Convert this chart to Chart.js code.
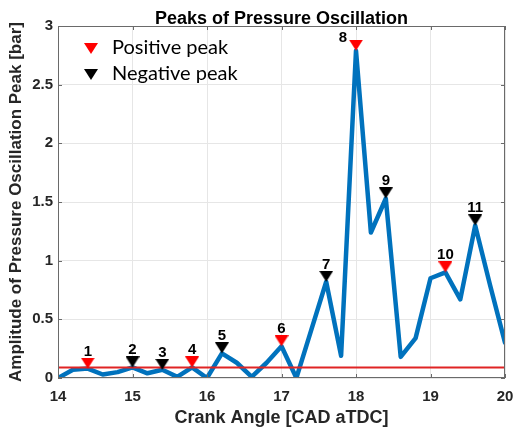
<!DOCTYPE html>
<html>
<head>
<meta charset="utf-8">
<title>Peaks of Pressure Oscillation</title>
<script src="https://cdn.jsdelivr.net/npm/chart.js@4.4.1/dist/chart.umd.min.js"></script>
<style>
  html, body { margin: 0; padding: 0; background: #fff; }
  #wrap { width: 514px; height: 430px; }
</style>
</head>
<body>
<div id="wrap"><canvas id="peakChart" width="514" height="430"></canvas></div>
<script>
// Crank angle samples [CAD aTDC]
const crankAngle = [
    14.0, 14.2, 14.4, 14.6, 14.8, 15.0, 15.2, 15.4, 15.6, 15.8,
    16.0, 16.2, 16.4, 16.6, 16.8, 17.0, 17.2, 17.4, 17.6, 17.8,
    18.0, 18.2, 18.4, 18.6, 18.8, 19.0, 19.2, 19.4, 19.6, 19.8, 20.0
];

// Pressure oscillation amplitude at each sample [bar]
const amplitude = [
    0.00, 0.07, 0.08, 0.03, 0.05, 0.09, 0.04, 0.07, 0.01, 0.09,
    0.00, 0.21, 0.13, 0.01, 0.13, 0.27, 0.00, 0.41, 0.82, 0.19,
    2.79, 1.24, 1.53, 0.18, 0.34, 0.85, 0.90, 0.67, 1.30, 0.79, 0.30
];

// Crank angles where peaks were detected
const positivePeaks = [14.4, 15.8, 17.0, 18.0, 19.2];
const negativePeaks = [15.0, 15.4, 16.2, 17.6, 18.4, 19.6];

// Detection threshold [bar]
const threshold = 0.09;

const xTicks = [14, 15, 16, 17, 18, 19, 20];
const yTicks = [0, 0.5, 1, 1.5, 2, 2.5, 3];

const BLUE = '#0072BD';
const RED = '#FF0000';
const AXIS_GRAY = '#6a6a6a';
const TEXT_DARK = '#262626';
const SANS = '"Liberation Sans", Arial, sans-serif';

// amplitude lookup for a peak angle
function peakValue(angle) {
    const i = crankAngle.findIndex(a => Math.abs(a - angle) < 1e-6);
    return amplitude[i];
}

// peaks are numbered in crank-angle order
const peakOrder = positivePeaks.concat(negativePeaks).sort((a, b) => a - b);

// Downward triangle marker, tip sitting on the peak
function makeMarker(color) {
    const c = document.createElement('canvas');
    c.width = 14;
    c.height = 22;
    const g = c.getContext('2d');
    g.fillStyle = color;
    g.beginPath();
    g.moveTo(0, 0);
    g.lineTo(14, 0);
    g.lineTo(7, 11);
    g.closePath();
    g.fill();
    return c;
}

function drawTriangle(ctx, cx, cy, color) {
    ctx.fillStyle = color;
    ctx.beginPath();
    ctx.moveTo(cx - 7, cy - 5);
    ctx.lineTo(cx + 7, cy - 5);
    ctx.lineTo(cx, cy + 6);
    ctx.closePath();
    ctx.fill();
}

// Box, inward ticks, peak numbers, legend and title
const peakAnnotations = {
    id: 'peakAnnotations',
    afterDraw(chart) {
        const { ctx, chartArea: area, scales: { x, y } } = chart;
        ctx.save();

        // axes box
        ctx.strokeStyle = AXIS_GRAY;
        ctx.lineWidth = 1;
        ctx.strokeRect(area.left + 0.5, area.top + 0.5,
            area.right - area.left - 1, area.bottom - area.top - 1);

        // inward tick marks
        ctx.beginPath();
        xTicks.forEach(t => {
            const px = Math.round(x.getPixelForValue(t)) + 0.5;
            ctx.moveTo(px, area.bottom);
            ctx.lineTo(px, area.bottom - 4);
            ctx.moveTo(px, area.top);
            ctx.lineTo(px, area.top + 4);
        });
        yTicks.forEach(t => {
            const py = Math.round(y.getPixelForValue(t)) + 0.5;
            ctx.moveTo(area.left, py);
            ctx.lineTo(area.left + 4, py);
            ctx.moveTo(area.right, py);
            ctx.lineTo(area.right - 4, py);
        });
        ctx.stroke();

        // peak numbers
        ctx.fillStyle = '#000';
        ctx.font = 'bold 15px ' + SANS;
        ctx.textBaseline = 'alphabetic';
        peakOrder.forEach((angle, i) => {
            const px = x.getPixelForValue(angle);
            const py = y.getPixelForValue(peakValue(angle));
            const label = String(i + 1);
            if (py - 24 < area.top + 8) {
                // no room above the marker: put the number beside it
                ctx.textAlign = 'right';
                ctx.fillText(label, px - 9, py - 9);
            } else {
                ctx.textAlign = 'center';
                ctx.fillText(label, px, py - 13);
            }
        });

        // legend
        const legendX = area.left + 33;
        const legendY = area.top + 22;
        const items = [['Positive peak', RED], ['Negative peak', '#000']];
        ctx.font = '20px Lato, "Open Sans", sans-serif';
        ctx.textAlign = 'left';
        ctx.textBaseline = 'middle';
        items.forEach(([text, color], i) => {
            const ly = legendY + i * 26;
            drawTriangle(ctx, legendX, ly, color);
            ctx.fillStyle = '#000';
            ctx.fillText(text, legendX + 21, ly);
        });

        // title
        ctx.font = 'bold 18px ' + SANS;
        ctx.textAlign = 'center';
        ctx.textBaseline = 'alphabetic';
        ctx.fillStyle = '#000';
        ctx.fillText('Peaks of Pressure Oscillation', (area.left + area.right) / 2, 24);

        ctx.restore();
    }
};

const tickFont = { family: SANS, size: 15, weight: 'bold' };

new Chart(document.getElementById('peakChart'), {
    type: 'line',
    data: {
        datasets: [
            {
                label: 'Positive peak',
                data: positivePeaks.map(a => ({ x: a, y: peakValue(a) })),
                showLine: false,
                pointStyle: makeMarker(RED),
                pointRadius: 7,
                order: 0
            },
            {
                label: 'Negative peak',
                data: negativePeaks.map(a => ({ x: a, y: peakValue(a) })),
                showLine: false,
                pointStyle: makeMarker('#000'),
                pointRadius: 7,
                order: 0
            },
            {
                label: 'Threshold',
                data: [{ x: crankAngle[0], y: threshold }, { x: crankAngle[crankAngle.length - 1], y: threshold }],
                borderColor: '#E02424',
                borderWidth: 2,
                pointRadius: 0,
                order: 1
            },
            {
                label: 'Amplitude',
                data: crankAngle.map((a, i) => ({ x: a, y: amplitude[i] })),
                borderColor: BLUE,
                borderWidth: 4.5,
                borderJoinStyle: 'round',
                borderCapStyle: 'round',
                pointRadius: 0,
                tension: 0,
                order: 2
            }
        ]
    },
    options: {
        responsive: false,
        animation: false,
        events: [],
        layout: { padding: { top: 26, right: 0, left: 0, bottom: 0 } },
        plugins: {
            legend: { display: false },
            title: { display: false },
            tooltip: { enabled: false }
        },
        scales: {
            x: {
                type: 'linear',
                min: 14,
                max: 20,
                afterFit(scale) {
                    scale.height = 52;
                    scale.paddingLeft = 0;
                    scale.paddingRight = 9;
                },
                afterBuildTicks(scale) { scale.ticks = xTicks.map(v => ({ value: v })); },
                grid: { color: '#e6e6e6', drawTicks: false },
                border: { display: false },
                ticks: { font: tickFont, color: TEXT_DARK, padding: 10, callback: v => String(v) },
                title: {
                    display: true,
                    text: 'Crank Angle [CAD aTDC]',
                    font: { family: SANS, size: 18, weight: 'bold' },
                    color: TEXT_DARK,
                    padding: { top: 0, bottom: 1 }
                }
            },
            y: {
                type: 'linear',
                min: 0,
                max: 3,
                afterFit(scale) {
                    scale.width = 58;
                    scale.paddingTop = 0;
                    scale.paddingBottom = 0;
                },
                afterBuildTicks(scale) { scale.ticks = yTicks.map(v => ({ value: v })); },
                grid: { color: '#e6e6e6', drawTicks: false },
                border: { display: false },
                ticks: { font: tickFont, color: TEXT_DARK, padding: 5, callback: v => String(v) },
                title: {
                    display: true,
                    text: 'Amplitude of Pressure Oscillation Peak [bar]',
                    font: { family: SANS, size: 17, weight: 'bold' },
                    color: TEXT_DARK,
                    padding: { top: 6, bottom: 0 }
                }
            }
        }
    },
    plugins: [peakAnnotations]
});
</script>
</body>
</html>
